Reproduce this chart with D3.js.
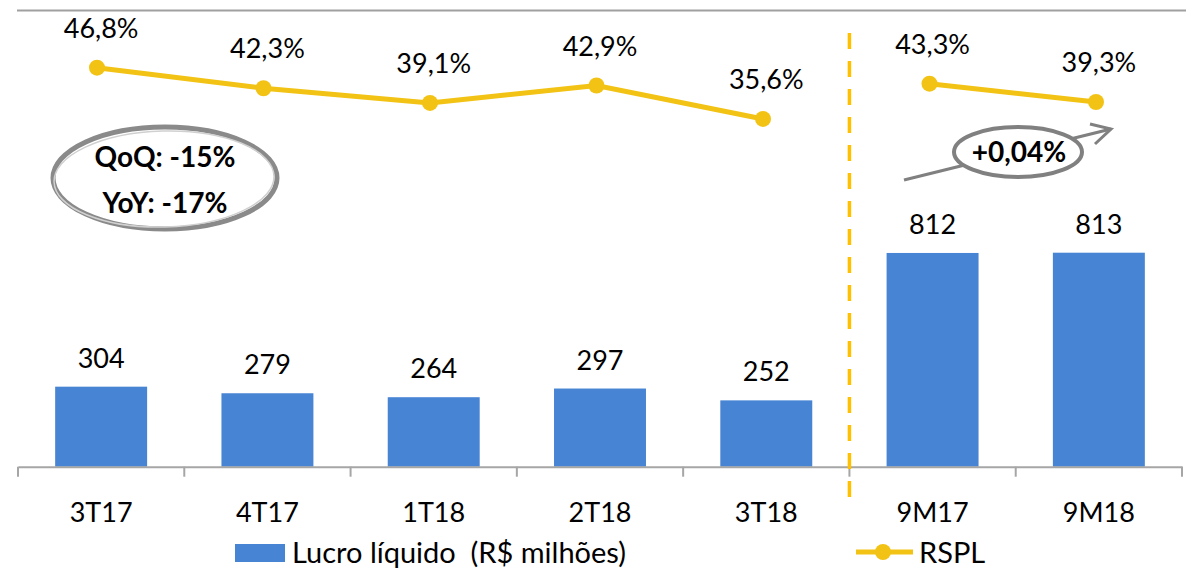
<!DOCTYPE html>
<html>
<head>
<meta charset="utf-8">
<script src="https://cdn.jsdelivr.net/npm/d3@7"></script>
<style>
  body { margin: 0; background: #fff; }
  text { font-family: Lato, "Open Sans", sans-serif; fill: #000; }
</style>
</head>
<body>
<div id="chart"></div>
<script>
// data
var periods = ["3T17", "4T17", "1T18", "2T18", "3T18", "9M17", "9M18"];
var lucro = [304, 279, 264, 297, 252, 812, 813];
var rspl = [46.8, 42.3, 39.1, 42.9, 35.6, 43.3, 39.3];
var rsplLabels = ["46,8%", "42,3%", "39,1%", "42,9%", "35,6%", "43,3%", "39,3%"];
// quarters and year-to-date are drawn as two separate line pieces
var lineGroups = [[0, 1, 2, 3, 4], [5, 6]];

var width = 1204, height = 573;
var blue = "#4784D3", gold = "#F2C314";

var svg = d3.select("#chart").append("svg")
  .attr("width", width)
  .attr("height", height);

// scales
var x = d3.scaleBand().domain(periods).range([18, 1182])
  .paddingInner(0.447).paddingOuter(0.2235);
var xDot = d3.scalePoint().domain(periods).range([97, 1096]);
var y = d3.scaleLinear().domain([0, 900]).range([466.7, 229.8]);
var y2 = d3.scaleLinear().domain([0, 50]).range([282, 53]);

// top border
svg.append("line")
  .attr("x1", 17).attr("x2", 1186)
  .attr("y1", 10.5).attr("y2", 10.5)
  .style("stroke", "#a0a0a0").style("stroke-width", 2);

// bars
svg.selectAll(".bar")
  .data(lucro)
  .enter().append("rect")
    .attr("class", "bar")
    .attr("x", function(d, i) { return x(periods[i]); })
    .attr("y", function(d) { return y(d); })
    .attr("width", x.bandwidth())
    .attr("height", function(d) { return y(0) - y(d); })
    .style("fill", blue);

svg.selectAll(".barlabel")
  .data(lucro)
  .enter().append("text")
    .attr("class", "barlabel")
    .attr("x", function(d, i) { return x(periods[i]) + x.bandwidth() / 2; })
    .attr("y", function(d) { return y(d) - 19; })
    .attr("text-anchor", "middle")
    .style("font-size", "27px")
    .text(function(d) { return d; });

// x axis
var xAxis = svg.append("g")
  .attr("transform", "translate(0," + y(0) + ")")
  .call(d3.axisBottom(x).tickSize(0).tickPadding(36));
xAxis.select(".domain").style("stroke", "#a6a6a6").style("stroke-width", 2);
xAxis.selectAll("text").style("font-size", "27px").style("font-family", "Lato, sans-serif");

// ticks between categories
var bounds = periods.map(function(p) { return x(p) - x.step() * x.paddingInner() / 2; });
bounds.push(1182);
xAxis.selectAll(".sep")
  .data(bounds)
  .enter().append("line")
    .attr("class", "sep")
    .attr("x1", function(d) { return d; })
    .attr("x2", function(d) { return d; })
    .attr("y1", 0).attr("y2", 10)
    .style("stroke", "#a6a6a6").style("stroke-width", 2);

// dashed divider between quarters and 9M
var divX = x("9M17") - x.step() * x.paddingInner() / 2;
svg.append("line")
  .attr("x1", divX).attr("x2", divX)
  .attr("y1", 33).attr("y2", 497)
  .style("stroke", "#FFC000").style("stroke-width", 3.5)
  .style("stroke-dasharray", "16,12");

// RSPL line
var valueline = d3.line()
  .x(function(i) { return xDot(periods[i]); })
  .y(function(i) { return y2(rspl[i]); });

svg.selectAll(".rspl")
  .data(lineGroups)
  .enter().append("path")
    .attr("class", "rspl")
    .attr("d", valueline)
    .style("fill", "none")
    .style("stroke", gold)
    .style("stroke-width", 5);

svg.selectAll(".dot")
  .data(rspl)
  .enter().append("circle")
    .attr("class", "dot")
    .attr("r", 8)
    .attr("cx", function(d, i) { return xDot(periods[i]); })
    .attr("cy", function(d) { return y2(d); })
    .style("fill", gold);

svg.selectAll(".pct")
  .data(rspl)
  .enter().append("text")
    .attr("class", "pct")
    .attr("x", function(d, i) { return x(periods[i]) + x.bandwidth() / 2; })
    .attr("y", function(d) { return y2(d) - 30; })
    .attr("text-anchor", "middle")
    .style("font-size", "27px")
    .text(function(d, i) { return rsplLabels[i]; });

// callout: QoQ / YoY
var c1 = svg.append("g");
c1.append("ellipse")
  .attr("cx", 165).attr("cy", 178).attr("rx", 112).attr("ry", 51)
  .style("fill", "#fff").style("stroke", "#8a8a8a").style("stroke-width", 5);
c1.append("ellipse")
  .attr("cx", 164).attr("cy", 179).attr("rx", 110).attr("ry", 48)
  .attr("transform", "rotate(-1.5,165,178)")
  .style("fill", "none").style("stroke", "#d0d0d0").style("stroke-width", 1.5);
c1.append("text").attr("x", 165).attr("y", 167).attr("text-anchor", "middle")
  .style("font-size", "28px").style("font-weight", "bold").text("QoQ: -15%");
c1.append("text").attr("x", 165).attr("y", 213).attr("text-anchor", "middle")
  .style("font-size", "28px").style("font-weight", "bold").text("YoY: -17%");

// callout: +0,04% with arrow
var c2 = svg.append("g");
c2.append("line")
  .attr("x1", 904).attr("y1", 180).attr("x2", 1111).attr("y2", 129)
  .style("stroke", "#808080").style("stroke-width", 3);
c2.append("polyline")
  .attr("points", "1090,124 1111,129 1095,144")
  .style("fill", "none").style("stroke", "#808080").style("stroke-width", 3);
c2.append("ellipse")
  .attr("cx", 1018).attr("cy", 152).attr("rx", 64).attr("ry", 25)
  .style("fill", "#fff").style("stroke", "#808080").style("stroke-width", 4);
c2.append("text").attr("x", 1019).attr("y", 162).attr("text-anchor", "middle")
  .style("font-size", "28px").style("font-weight", "bold").text("+0,04%");

// legend
var legend = svg.append("g");
legend.append("rect")
  .attr("x", 235).attr("y", 544).attr("width", 50).attr("height", 18)
  .style("fill", blue);
legend.append("text").attr("x", 292).attr("y", 563)
  .style("font-size", "29px").style("white-space", "pre")
  .text("Lucro líquido  (R$ milhões)");
legend.append("line")
  .attr("x1", 856).attr("x2", 913).attr("y1", 552).attr("y2", 552)
  .style("stroke", gold).style("stroke-width", 5);
legend.append("circle").attr("cx", 883).attr("cy", 552).attr("r", 8).style("fill", gold);
legend.append("text").attr("x", 919).attr("y", 563)
  .style("font-size", "29px").text("RSPL");
</script>
</body>
</html>
